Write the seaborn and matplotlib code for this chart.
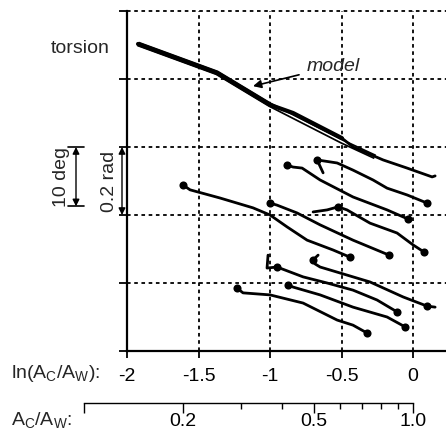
import numpy as np
import pandas as pd
import seaborn as sns
import matplotlib.pyplot as plt
import matplotlib.transforms as mtransforms
from matplotlib.ticker import NullFormatter

# x = ln(Ac/Aw), y = torsion in rad (traces offset vertically)
top_x = [-1.923, -1.371, -1.0, -0.839, -0.497, -0.420, -0.210, -0.042, 0.133, 0.154]
top_y = [0.903, 0.818, 0.724, 0.700, 0.626, 0.600, 0.562, 0.538, 0.512, 0.515]

model_x = [-1.923, -1.371, -1.0, -0.497, -0.266]
model_y = [0.903, 0.818, 0.724, 0.616, 0.571]

trace_x = [
    [-0.629, -0.671, -0.531, -0.420, -0.280, -0.182, -0.042, 0.098],
    [-0.881, -0.839, -0.776, -0.650, -0.420, -0.182, -0.035],
    [-1.608, -1.559, -1.350, -1.119, -1.0, -0.881, -0.741, -0.559, -0.441],
    [-1.0, -0.951, -0.811, -0.650, -0.420, -0.168],
    [-0.699, -0.601, -0.524, -0.462, -0.301, -0.112, 0.0, 0.077],
    [-1.014, -1.021, -0.951, -0.769, -0.601, -0.420, -0.252, -0.112],
    [-0.664, -0.699, -0.685, -0.650, -0.531, -0.301, -0.070, 0.098, 0.154],
    [-0.874, -0.839, -0.650, -0.420, -0.182, -0.056],
    [-1.231, -1.189, -1.0, -0.769, -0.531, -0.420, -0.322],
]
trace_y = [
    [0.524, 0.562, 0.553, 0.532, 0.503, 0.479, 0.459, 0.435],
    [0.547, 0.541, 0.538, 0.503, 0.453, 0.415, 0.388],
    [0.488, 0.474, 0.450, 0.421, 0.400, 0.365, 0.326, 0.297, 0.276],
    [0.435, 0.429, 0.406, 0.371, 0.326, 0.282],
    [0.409, 0.415, 0.424, 0.415, 0.376, 0.347, 0.312, 0.291],
    [0.282, 0.244, 0.247, 0.218, 0.200, 0.179, 0.150, 0.115],
    [0.282, 0.268, 0.256, 0.247, 0.232, 0.203, 0.159, 0.132, 0.129],
    [0.194, 0.188, 0.165, 0.129, 0.100, 0.071],
    [0.185, 0.171, 0.165, 0.141, 0.091, 0.076, 0.053],
]
# which points of each trace carry a dot (start and end of the run)
dot_idx = [[1, 7], [0, 6], [0, 8], [0, 5], [2, 7], [2, 7], [1, 7], [0, 5], [0, 6]]

x_ticks = [-2, -1.5, -1, -0.5, 0]
x_ticklabels = ['-2', '-1.5', '-1', '-0.5', '0']
ratio_major = [0.1, 0.2, 0.5, 1.0]
ratio_labels = ['', '0.2', '0.5', '1.0']
ratio_minor = [0.3, 0.4, 0.6, 0.7, 0.8, 0.9]

sns.set_theme(style='ticks')
plt.rcParams['font.family'] = ['Liberation Sans', 'DejaVu Sans']
plt.rcParams['axes.unicode_minus'] = False
plt.rcParams['mathtext.default'] = 'regular'
FS = 14
LW = 2.0

rows = []
for i, (xs, ys) in enumerate(zip(trace_x, trace_y)):
    for j, (a, b) in enumerate(zip(xs, ys)):
        rows.append({'trace': i, 'order': j, 'x': a, 'y': b})
df = pd.DataFrame(rows)
dots = pd.DataFrame([{'x': trace_x[i][k], 'y': trace_y[i][k]}
                     for i in range(len(trace_x)) for k in dot_idx[i]])

W, H = 446, 433
fig = plt.figure(figsize=(W / 100, H / 100), dpi=100)
xl = (-2, 0.23)
ax = fig.add_axes([127 / W, 1 - 351 / H, 1 - 127 / W, (351 - 11) / H])

# model drawn as a hollow line, data trace over it
ax.plot(model_x, model_y, color='black', lw=3.6, solid_capstyle='butt')
ax.plot(model_x, model_y, color='white', lw=1.1, solid_capstyle='butt')
ax.plot(top_x[:5], top_y[:5], color='black', lw=3.0)
sns.lineplot(x=top_x[4:], y=top_y[4:], color='black', lw=LW, sort=False, ax=ax)

sns.lineplot(data=df, x='x', y='y', units='trace', estimator=None, sort=False,
             color='black', lw=LW, ax=ax)
sns.scatterplot(data=dots, x='x', y='y', color='black', s=34, edgecolor='black',
                linewidth=0, ax=ax, zorder=5)

ax.set_xlim(*xl)
ax.set_ylim(0, 1.0)
ax.set_xticks(x_ticks)
ax.set_xticklabels(x_ticklabels, fontsize=FS)
ax.set_yticks(np.arange(0, 1.01, 0.2))
ax.set_yticklabels([])
ax.set_xlabel('')
ax.set_ylabel('')
ax.tick_params(axis='x', direction='out', length=5, width=1.3, pad=7, colors='black')
ax.tick_params(axis='y', direction='out', length=6, width=1.3, colors='black')
for s in ['top', 'right']:
    ax.spines[s].set_visible(False)
for s in ['left', 'bottom']:
    ax.spines[s].set_linewidth(1.6)
    ax.spines[s].set_color('black')
ax.grid(True, color='black', lw=1.3, linestyle=(0, (2, 2)))
for gl in ax.get_xgridlines() + ax.get_ygridlines():
    gl.set_clip_on(False)

ax.annotate('model', xy=(-1.119, 0.779), xytext=(-0.56, 0.837),
            fontsize=FS, fontstyle='italic', ha='center', va='center',
            arrowprops=dict(arrowstyle='-|>', color='black', lw=1.2,
                            mutation_scale=12, shrinkA=3, shrinkB=0))

blend = mtransforms.blended_transform_factory(fig.transFigure, ax.transData)
fig.text(80 / W, 0.891, 'torsion', transform=blend, fontsize=FS, ha='center', va='center')

# scale bars
deg10 = np.deg2rad(10)
ax.annotate('', xy=(122 / W, 0.6), xytext=(122 / W, 0.4),
            xycoords=blend, textcoords=blend,
            arrowprops=dict(arrowstyle='<|-|>', color='black', lw=1.0,
                            mutation_scale=10, shrinkA=0, shrinkB=0))
fig.text(110 / W, 0.5, '0.2 rad', transform=blend, fontsize=FS, rotation=90,
         ha='center', va='center')
ax.annotate('', xy=(76 / W, 0.6), xytext=(76 / W, 0.6 - deg10),
            xycoords=blend, textcoords=blend,
            arrowprops=dict(arrowstyle='<|-|>', color='black', lw=1.0,
                            mutation_scale=10, shrinkA=0, shrinkB=0))
for yy in [0.6, 0.6 - deg10]:
    ax.plot([68 / W, 84 / W], [yy, yy], color='black', lw=1.2,
            transform=blend, clip_on=False)
fig.text(62 / W, 0.6 - deg10 / 2, '10 deg', transform=blend, fontsize=FS,
         rotation=90, ha='center', va='center')

fig.text(100 / W, 1 - 374 / H, 'ln(A$_C$/A$_W$):', fontsize=FS, ha='right', va='center')
fig.text(11 / W, 1 - 420 / H, 'A$_C$/A$_W$:', fontsize=FS, ha='left', va='center')

# second scale: Ac/Aw on a log axis aligned with ln
px_per_unit = (W - 127) / (xl[1] - xl[0])
left2 = 127 + (np.log(0.1) - xl[0]) * px_per_unit
ax2 = fig.add_axes([left2 / W, 1 - 403 / H, 1 - left2 / W, 0.0001])
ax2.set_xscale('log')
ax2.set_xlim(0.1, np.exp(xl[1]))
ax2.set_xticks(ratio_major)
ax2.set_xticklabels(ratio_labels, fontsize=FS)
ax2.set_xticks(ratio_minor, minor=True)
ax2.xaxis.set_minor_formatter(NullFormatter())
ax2.set_yticks([])
ax2.set_facecolor('none')
for s in ['top', 'right', 'left']:
    ax2.spines[s].set_visible(False)
ax2.spines['bottom'].set_bounds(0.1, 1.0)
ax2.spines['bottom'].set_linewidth(1.0)
ax2.spines['bottom'].set_color('black')
ax2.tick_params(axis='x', which='major', direction='out', length=7, width=1.0, pad=0, colors='black')
ax2.tick_params(axis='x', which='minor', direction='out', length=4, width=1.0, colors='black')

fig.savefig('out.png', dpi=100)
